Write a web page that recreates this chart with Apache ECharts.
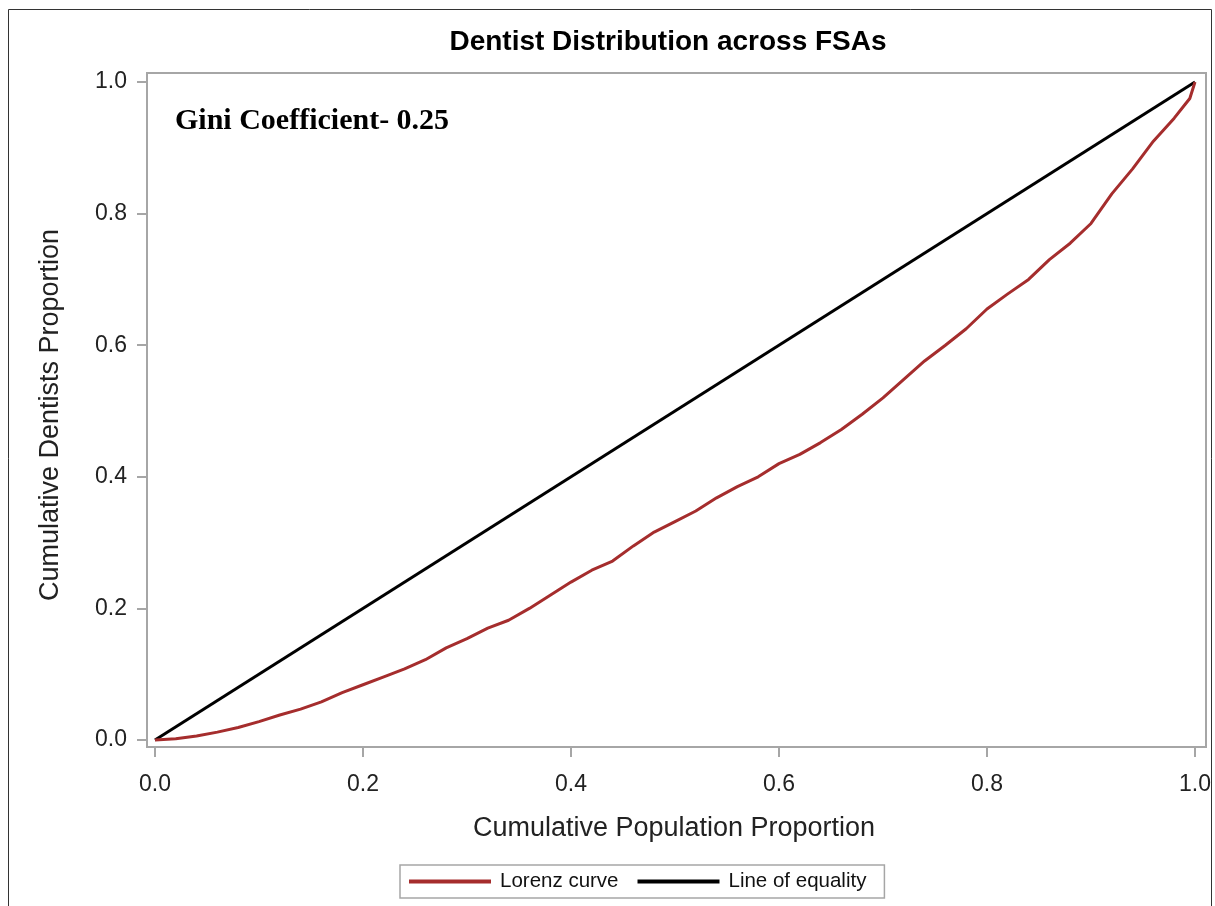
<!DOCTYPE html>
<html>
<head>
<meta charset="utf-8">
<script src="https://cdn.jsdelivr.net/npm/echarts@6/dist/echarts.min.js"></script>
<style>html,body{margin:0;padding:0;background:#fff;}#chart{width:1215px;height:906px;}</style>
</head>
<body>
<div id="chart"></div>
<script>
// Cumulative population proportion (x) and cumulative dentist proportion (y) for the Lorenz curve
var lorenzX = [0.00,0.02,0.04,0.06,0.08,0.10,0.12,0.14,0.16,0.18,0.20,0.22,0.24,0.26,0.28,0.30,0.32,0.34,0.36,0.38,0.40,0.42,0.44,0.46,0.48,0.50,0.52,0.54,0.56,0.58,0.60,0.62,0.64,0.66,0.68,0.70,0.72,0.74,0.76,0.78,0.80,0.82,0.84,0.86,0.88,0.90,0.92,0.94,0.96,0.98,0.99,0.995,1.00];
var lorenzY = [0.000,0.002,0.006,0.012,0.019,0.028,0.038,0.047,0.058,0.072,0.084,0.096,0.108,0.122,0.140,0.154,0.170,0.182,0.200,0.220,0.240,0.258,0.272,0.295,0.316,0.332,0.348,0.368,0.385,0.400,0.420,0.434,0.452,0.472,0.495,0.520,0.548,0.576,0.600,0.625,0.655,0.678,0.700,0.730,0.755,0.785,0.830,0.868,0.910,0.945,0.965,0.975,1.000];
// Line of equality
var equalityX = [0, 1];
var equalityY = [0, 1];
// Axis ticks
var tickValues = [0, 0.2, 0.4, 0.6, 0.8, 1.0];
var seriesNames = ['Lorenz curve', 'Line of equality'];
var titleText = 'Dentist Distribution across FSAs';
var giniText = 'Gini Coefficient- 0.25';
var xName = 'Cumulative Population Proportion';
var yName = 'Cumulative Dentists Proportion';

function pairs(xs, ys) { return xs.map(function (x, i) { return [x, ys[i]]; }); }

var chart = echarts.init(document.getElementById('chart'), null, {renderer: 'canvas'});
var FONT = '"Liberation Sans", Arial, sans-serif';
var axisCommon = {
  type: 'value',
  axisLine: {show: true, onZero: false, lineStyle: {color: '#a6a6a6', width: 2}},
  axisTick: {show: true, length: 10, customValues: tickValues, lineStyle: {color: '#a6a6a6', width: 2}},
  splitLine: {show: false},
  axisLabel: {customValues: tickValues, formatter: function (v) { return v.toFixed(1); }, color: '#222', fontSize: 23, fontFamily: FONT}
};
chart.setOption({
  animation: false,
  backgroundColor: '#fff',
  grid: {left: 147, right: 9, top: 73, bottom: 159, show: true, borderColor: '#a6a6a6', borderWidth: 2},
  xAxis: Object.assign({}, axisCommon, {min: -0.00769, max: 1.01058, axisLabel: Object.assign({}, axisCommon.axisLabel, {margin: 26})}),
  yAxis: Object.assign({}, axisCommon, {min: -0.01064, max: 1.01368, axisLabel: Object.assign({}, axisCommon.axisLabel, {margin: 20, padding: [4, 0, 0, 0]})}),
  legend: {
    left: 400, top: 865, data: seriesNames, icon: 'rect', itemWidth: 82, itemHeight: 4, itemGap: 19,
    borderColor: '#a6a6a6', borderWidth: 1.5, padding: [6, 18, 6, 9],
    textStyle: {fontSize: 20.5, fontFamily: FONT, color: '#111', padding: [0, 0, 0, 4]}
  },
  series: [
    {name: seriesNames[0], type: 'line', data: pairs(lorenzX, lorenzY), showSymbol: false, symbol: 'none', lineStyle: {color: '#A52D2D', width: 3}, itemStyle: {color: '#A52D2D'}, z: 3},
    {name: seriesNames[1], type: 'line', data: pairs(equalityX, equalityY), showSymbol: false, symbol: 'none', lineStyle: {color: '#000', width: 3}, itemStyle: {color: '#000'}, z: 2}
  ],
  graphic: [
    {type: 'rect', shape: {x: 8.5, y: 9.5, width: 1203, height: 920}, style: {fill: null, stroke: '#333', lineWidth: 1}, silent: true},
    {type: 'text', x: 668, y: 42, style: {text: titleText, font: 'bold 28px ' + FONT, fill: '#000', textAlign: 'center', textVerticalAlign: 'middle'}},
    {type: 'text', x: 175, y: 121, style: {text: giniText, font: 'bold 30px "Liberation Serif", "Times New Roman", serif', fill: '#000', textAlign: 'left', textVerticalAlign: 'middle'}},
    {type: 'text', x: 674, y: 829, style: {text: xName, font: '27px ' + FONT, fill: '#222', textAlign: 'center', textVerticalAlign: 'middle'}},
    {type: 'text', x: 51, y: 415, rotation: Math.PI / 2, style: {text: yName, font: '27px ' + FONT, fill: '#222', textAlign: 'center', textVerticalAlign: 'middle'}}
  ]
});
</script>
</body>
</html>
